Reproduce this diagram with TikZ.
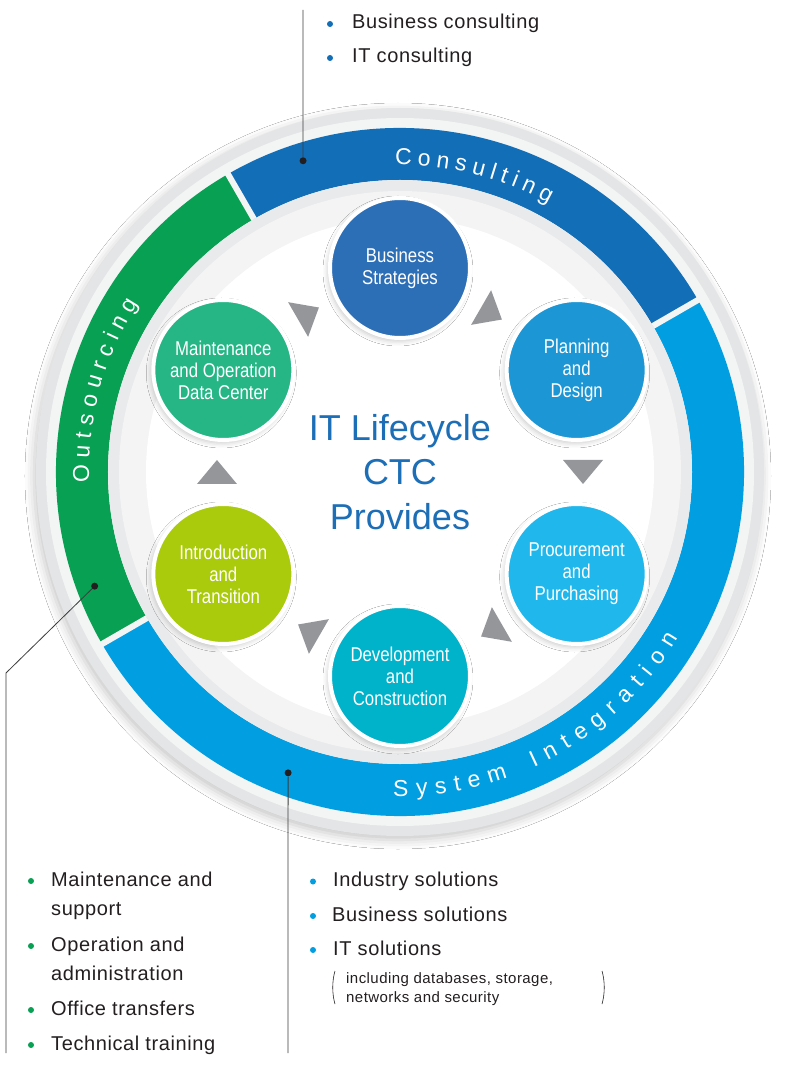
\documentclass[tikz,border=0pt]{standalone}
\usepackage{fontspec}
\setmainfont{Liberation Sans}
\newfontfamily\listfont[LetterSpace=3]{Liberation Sans}
\newfontfamily\stagefont[FakeStretch=0.84]{Liberation Sans}
\newfontfamily\bandfont{Liberation Sans}
\usetikzlibrary{calc,shadows.blur}

\definecolor{consblue}{RGB}{18,110,183}
\definecolor{outsgreen}{RGB}{8,160,82}
\definecolor{sysblue}{RGB}{2,158,226}
\definecolor{bscol}{RGB}{45,111,183}
\definecolor{pdcol}{RGB}{28,150,212}
\definecolor{ppcol}{RGB}{32,183,236}
\definecolor{dccol}{RGB}{0,178,202}
\definecolor{itcol}{RGB}{170,202,12}
\definecolor{mocol}{RGB}{38,182,134}
\definecolor{titleblue}{RGB}{28,110,182}
\definecolor{arrowgray}{RGB}{148,150,153}
\definecolor{textdark}{RGB}{35,31,32}
\definecolor{leadgray}{RGB}{60,60,60}
\definecolor{ringgray}{RGB}{228,229,230}
\definecolor{ringlight}{RGB}{243,244,244}
\definecolor{innergray}{RGB}{233,234,235}
\definecolor{innerlight}{RGB}{244,244,245}

\pgfdeclareradialshading{innerglow}{\pgfpoint{0bp}{0bp}}{%
  color(0bp)=(white); color(42bp)=(white); color(50bp)=(innerlight)}

% one coloured piece of the service ring
\newcommand\bandseg[3]{%
  \fill[#3] (#1:292) arc[start angle=#1,end angle=#2,radius=292]
    -- (#2:344) arc[start angle=#2,end angle=#1,radius=344] -- cycle;}

% letters set one by one round the ring: letters, start angle, radius, tracking, +1 ccw / -1 cw
\newcommand\ringword[5]{%
  \begingroup
  \bandfont\fontsize{23}{23}\selectfont
  \xdef\ringpos{0}%
  \foreach \ch in {#1}{%
    \pgfmathwidth{"\ch"}\let\chw\pgfmathresult
    \pgfmathsetmacro\chang{#2+(#5)*deg((\ringpos+\chw/2)/#3)}%
    \pgfmathsetmacro\chrot{\chang+(#5)*90}%
    \node[ringletter,rotate=\chrot] at (\chang:#3) {\ch};
    \pgfmathsetmacro\newpos{\ringpos+\chw+#4}%
    \xdef\ringpos{\newpos}%
  }%
  \endgroup}

\begin{document}
\begin{tikzpicture}[x=1pt,y=1pt,
  stage/.style={circle,minimum size=140pt,inner sep=0pt,line width=4pt,draw=white,
    text=white,align=center,font=\stagefont\fontsize{20}{22}\selectfont,
    blur shadow={shadow xshift=-2pt,shadow yshift=-3pt,shadow blur radius=5pt,shadow opacity=22}},
  ringletter/.style={anchor=base,inner sep=0pt,text=white,font=\bandfont\fontsize{23}{23}\selectfont},
  item/.style={anchor=base west,inner sep=0pt,text=textdark,font=\listfont\fontsize{20}{24}\selectfont},
  note/.style={anchor=base west,inner sep=0pt,text=textdark,font=\listfont\fontsize{15}{19}\selectfont},
  bullet/.style={circle,fill=#1,inner sep=0pt,minimum size=6pt},
  leader/.style={draw=leadgray,line width=0.8pt},
  dot/.style={circle,fill=textdark,inner sep=0pt,minimum size=7pt}]
  \useasboundingbox (-400,-598) rectangle (400,472);
  \fill[white] (-400,-598) rectangle (400,472);

  % ring
  \fill[ringgray,blur shadow={shadow xshift=-2pt,shadow yshift=-4pt,shadow blur radius=9pt,shadow opacity=22}] (0,0) circle (364);
  \fill[ringlight] (0,0) circle (354);
  \bandseg{30}{120}{consblue}
  \bandseg{120}{210}{outsgreen}
  \bandseg{210}{390}{sysblue}
  \fill[innergray] (0,0) circle (292);
  \fill[innerlight] (0,0) circle (281);
  \shade[shading=innerglow] (0,0) circle (254);
  \foreach \a in {30,120,210}
    \draw[ringlight,line width=6pt] (\a:292) -- (\a:346);

  % ring labels
  \ringword{C,o,n,s,u,l,t,i,n,g}{90.9}{307}{5.7}{-1}
  \ringword{O,u,t,s,o,u,r,c,i,n,g}{182}{311}{6.5}{-1}
  \ringword{S,y,s,t,e,m}{268.8}{324}{8}{1}
  \ringword{I,n,t,e,g,r,a,t,i,o,n}{294.4}{324}{8.8}{1}

  % lifecycle
  \node[stage,fill=bscol] (bs) at (90:204) {Business\\Strategies};
  \node[stage,fill=pdcol] (pd) at (30:204) {Planning\\and\\Design};
  \node[stage,fill=ppcol] (pp) at (-30:204) {Procurement\\and\\Purchasing};
  \node[stage,fill=dccol] (dc) at (-90:204) {Development\\and\\Construction};
  \node[stage,fill=itcol] (it) at (-150:204) {Introduction\\and\\Transition};
  \node[stage,fill=mocol] (mo) at (150:204) {Maintenance\\and Operation\\Data Center};
  \foreach \a in {60,0,-60,-120,180,120}
    \fill[arrowgray,rotate=\a] (163,12) -- (203,12) -- (183,-12) -- cycle;
  \node[text=titleblue,font=\fontsize{36}{44.5}\selectfont,align=center] (title) at (0,0)
    {IT Lifecycle\\CTC\\Provides};

  % leaders
  \node[dot] (consdot) at (107.3:326) {};
  \coordinate (consend) at (-97,462);
  \draw[leader] (consdot) -- (consend);
  \node[dot] (outsdot) at (200.5:326) {};
  \coordinate (outsbend) at (-394,-201);
  \coordinate (outsend) at (-394,-581);
  \draw[leader] (outsdot) -- (outsbend) -- (outsend);
  \node[dot] (sysdot) at (249.6:321) {};
  \coordinate (sysend) at (-112,-581);
  \draw[leader] (sysdot) -- (sysend);

  % consulting list
  \node[bullet=consblue] (cb1) at (-70,448) {};
  \node[item] (ci1) at (-48,443) {Business consulting};
  \node[bullet=consblue] (cb2) at (-70,414) {};
  \node[item] (ci2) at (-48,409) {IT consulting};

  % outsourcing list
  \node[bullet=outsgreen] (ob1) at (-369,-409) {};
  \node[item] (oi1) at (-349,-414) {Maintenance and};
  \node[item] (oi1b) at (-349,-443) {support};
  \node[bullet=outsgreen] (ob2) at (-369,-474) {};
  \node[item] (oi2) at (-349,-479) {Operation and};
  \node[item] (oi2b) at (-349,-508) {administration};
  \node[bullet=outsgreen] (ob3) at (-369,-538) {};
  \node[item] (oi3) at (-349,-543) {Office transfers};
  \node[bullet=outsgreen] (ob4) at (-369,-573) {};
  \node[item] (oi4) at (-349,-578) {Technical training};

  % system integration list
  \node[bullet=sysblue] (sb1) at (-87,-409.5) {};
  \node[item] (si1) at (-67,-414) {Industry solutions};
  \node[bullet=sysblue] (sb2) at (-87,-444) {};
  \node[item] (si2) at (-68,-449) {Business solutions};
  \node[bullet=sysblue] (sb3) at (-87,-478) {};
  \node[item] (si3) at (-67,-483) {IT solutions};
  \node[note] (sn1) at (-54,-511) {including databases, storage,};
  \node[note] (sn2) at (-54,-530) {networks and security};
  \draw[textdark,line width=0.6pt] (-65,-499) .. controls (-68,-509) and (-68,-522) .. (-65,-532);
  \draw[textdark,line width=0.6pt] (202,-499) .. controls (205,-509) and (205,-522) .. (202,-532);
\end{tikzpicture}
\end{document}
